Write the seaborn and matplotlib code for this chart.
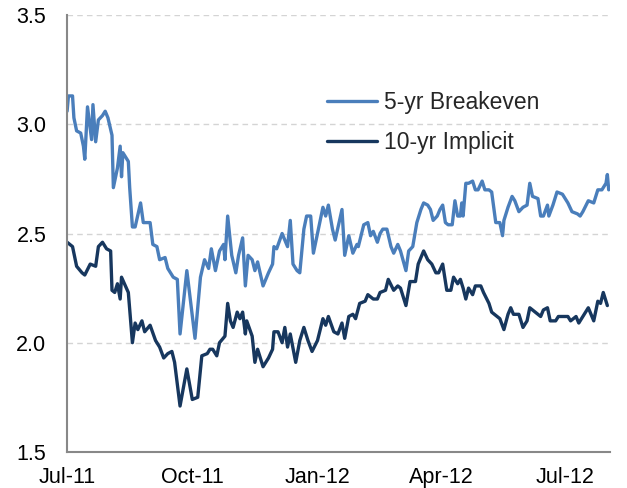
import pandas as pd
import matplotlib.pyplot as plt
import matplotlib.dates as mdates
import seaborn as sns

sns.set_style('white')
plt.rcParams['font.family'] = ['Liberation Sans', 'DejaVu Sans']

# days after 1 Jul 2011
days_be5 = [0, 1, 4, 5, 6, 7, 10, 12, 13, 15, 18, 19, 21, 23, 26, 28, 30, 33, 34, 37,
            39, 40, 41, 45, 46, 48, 50, 54, 56, 61, 63, 66, 68, 72, 74, 78, 81, 83, 88, 94,
            98, 101, 104, 106, 109, 112, 115, 116, 118, 121, 124, 126, 129, 131, 133, 136, 138, 140, 144, 148,
            151, 152, 154, 158, 162, 164, 166, 169, 171, 174, 176, 179, 181, 184, 188, 190, 192, 195, 197, 202,
            204, 207, 210, 213, 214, 218, 221, 223, 225, 228, 230, 232, 235, 238, 240, 243, 245, 249, 251, 254,
            257, 260, 262, 265, 267, 269, 272, 274, 276, 278, 280, 283, 285, 287, 289, 290, 291, 293, 295, 298,
            300, 302, 305, 307, 310, 312, 315, 318, 320, 321, 324, 327, 329, 332, 335, 338, 340, 342, 346, 348,
            350, 353, 354, 357, 360, 364, 368, 371, 375, 377, 379, 383, 387, 390, 393, 396, 397, 398]
be5 = [3.06, 3.13, 3.13, 3.03, 3.00, 2.97, 2.96, 2.90, 2.84, 3.08, 2.93, 3.09, 2.92, 3.02, 3.04, 3.06, 3.03, 2.95, 2.71, 2.80,
       2.90, 2.76, 2.87, 2.83, 2.71, 2.53, 2.53, 2.64, 2.55, 2.55, 2.45, 2.44, 2.38, 2.39, 2.34, 2.30, 2.29, 2.04, 2.33, 2.02,
       2.30, 2.38, 2.34, 2.43, 2.33, 2.42, 2.45, 2.38, 2.58, 2.40, 2.32, 2.40, 2.48, 2.26, 2.40, 2.38, 2.33, 2.37, 2.26, 2.32,
       2.36, 2.44, 2.43, 2.50, 2.44, 2.56, 2.36, 2.33, 2.32, 2.52, 2.58, 2.58, 2.41, 2.50, 2.62, 2.58, 2.63, 2.52, 2.47, 2.61,
       2.40, 2.49, 2.41, 2.45, 2.44, 2.54, 2.55, 2.49, 2.51, 2.46, 2.50, 2.52, 2.52, 2.44, 2.41, 2.45, 2.42, 2.33, 2.42, 2.44,
       2.55, 2.61, 2.64, 2.63, 2.61, 2.56, 2.58, 2.61, 2.63, 2.55, 2.54, 2.54, 2.65, 2.58, 2.58, 2.64, 2.58, 2.73, 2.73, 2.74,
       2.70, 2.70, 2.74, 2.70, 2.70, 2.69, 2.55, 2.55, 2.49, 2.56, 2.62, 2.67, 2.65, 2.60, 2.62, 2.63, 2.73, 2.67, 2.66, 2.58,
       2.58, 2.63, 2.58, 2.63, 2.69, 2.68, 2.64, 2.60, 2.59, 2.58, 2.60, 2.65, 2.64, 2.70, 2.70, 2.73, 2.77, 2.70]

days_imp10 = [0, 4, 5, 7, 11, 13, 17, 21, 23, 26, 29, 32, 33, 35, 37, 39, 40, 45, 48, 50,
              52, 55, 57, 61, 65, 68, 71, 74, 77, 79, 83, 88, 92, 96, 99, 103, 105, 107, 110, 112,
              116, 118, 120, 122, 125, 127, 129, 131, 132, 136, 138, 140, 144, 148, 151, 152, 155, 158, 160, 162,
              164, 168, 171, 174, 177, 180, 184, 188, 190, 192, 196, 199, 202, 204, 207, 210, 212, 215, 219, 221,
              225, 228, 230, 234, 236, 240, 243, 245, 249, 252, 256, 258, 262, 265, 268, 271, 273, 276, 279, 282,
              284, 287, 289, 291, 293, 295, 298, 300, 304, 306, 310, 312, 316, 318, 321, 324, 326, 328, 332, 335,
              338, 340, 344, 348, 350, 353, 355, 359, 361, 364, 368, 370, 374, 376, 379, 383, 387, 390, 392, 394, 397]
imp10 = [2.46, 2.44, 2.41, 2.35, 2.32, 2.31, 2.36, 2.35, 2.44, 2.46, 2.43, 2.42, 2.24, 2.23, 2.27, 2.20, 2.30, 2.23, 2.00, 2.09,
         2.06, 2.10, 2.05, 2.08, 2.01, 1.98, 1.93, 1.95, 1.96, 1.91, 1.71, 1.88, 1.74, 1.75, 1.94, 1.95, 1.97, 1.97, 1.94, 2.00,
         2.03, 2.18, 2.10, 2.07, 2.14, 2.11, 2.14, 2.04, 2.10, 2.03, 1.91, 1.97, 1.89, 1.93, 1.97, 2.05, 2.05, 2.00, 2.07, 1.98,
         2.04, 1.91, 2.01, 2.07, 2.01, 1.96, 2.01, 2.11, 2.08, 2.12, 2.05, 2.04, 2.09, 2.02, 2.12, 2.13, 2.11, 2.18, 2.19, 2.22,
         2.20, 2.20, 2.23, 2.24, 2.29, 2.24, 2.26, 2.25, 2.17, 2.28, 2.28, 2.36, 2.42, 2.38, 2.36, 2.32, 2.32, 2.36, 2.24, 2.24,
         2.30, 2.27, 2.29, 2.25, 2.20, 2.25, 2.22, 2.26, 2.26, 2.23, 2.18, 2.14, 2.12, 2.11, 2.06, 2.13, 2.16, 2.13, 2.13, 2.07,
         2.10, 2.16, 2.14, 2.12, 2.15, 2.16, 2.10, 2.10, 2.12, 2.12, 2.12, 2.10, 2.12, 2.09, 2.12, 2.16, 2.10, 2.19, 2.18, 2.23, 2.17]

start = pd.Timestamp('2011-07-01')
df = pd.concat([
    pd.DataFrame({'date': start + pd.to_timedelta(days_be5, unit='D'), 'value': be5, 'series': '5-yr Breakeven'}),
    pd.DataFrame({'date': start + pd.to_timedelta(days_imp10, unit='D'), 'value': imp10, 'series': '10-yr Implicit'}),
])

fig = plt.figure(figsize=(6.27, 4.88), dpi=100)
ax = fig.add_axes([0.107, 0.074, 0.866, 0.895])
ax.set_axisbelow(True)
ax.yaxis.grid(True, color='#d4d4d4', linestyle=(0, (4, 3)), linewidth=1)

sns.lineplot(data=df, x='date', y='value', hue='series', ax=ax, linewidth=2.4,
             palette={'5-yr Breakeven': '#4a7ebb', '10-yr Implicit': '#17375e'})

ax.set_ylim(1.5, 3.5)
ax.set_yticks([1.5, 2.0, 2.5, 3.0, 3.5])
ax.yaxis.set_major_formatter(plt.FormatStrFormatter('%.1f'))
ax.set_xlim(start, start + pd.Timedelta(days=399))
ax.xaxis.set_major_locator(mdates.MonthLocator(bymonth=[1, 4, 7, 10]))
ax.xaxis.set_major_formatter(mdates.DateFormatter('%b-%y'))
ax.set_xlabel('')
ax.set_ylabel('')

for s in ['top', 'right']:
    ax.spines[s].set_visible(False)
for s in ['left', 'bottom']:
    ax.spines[s].set_color('#888888')
    ax.spines[s].set_linewidth(1.5)
ax.tick_params(axis='both', direction='out', length=6, width=1.2, color='#888888',
               labelsize=15.5, labelcolor='black')
ax.tick_params(axis='y', pad=9)
ax.tick_params(axis='x', pad=5)

ax.legend(loc='center left', bbox_to_anchor=(0.44, 0.755), frameon=False, fontsize=16.5,
          handlelength=2.2, handletextpad=0.3, labelspacing=0.75)

fig.savefig('out.png', dpi=100)
